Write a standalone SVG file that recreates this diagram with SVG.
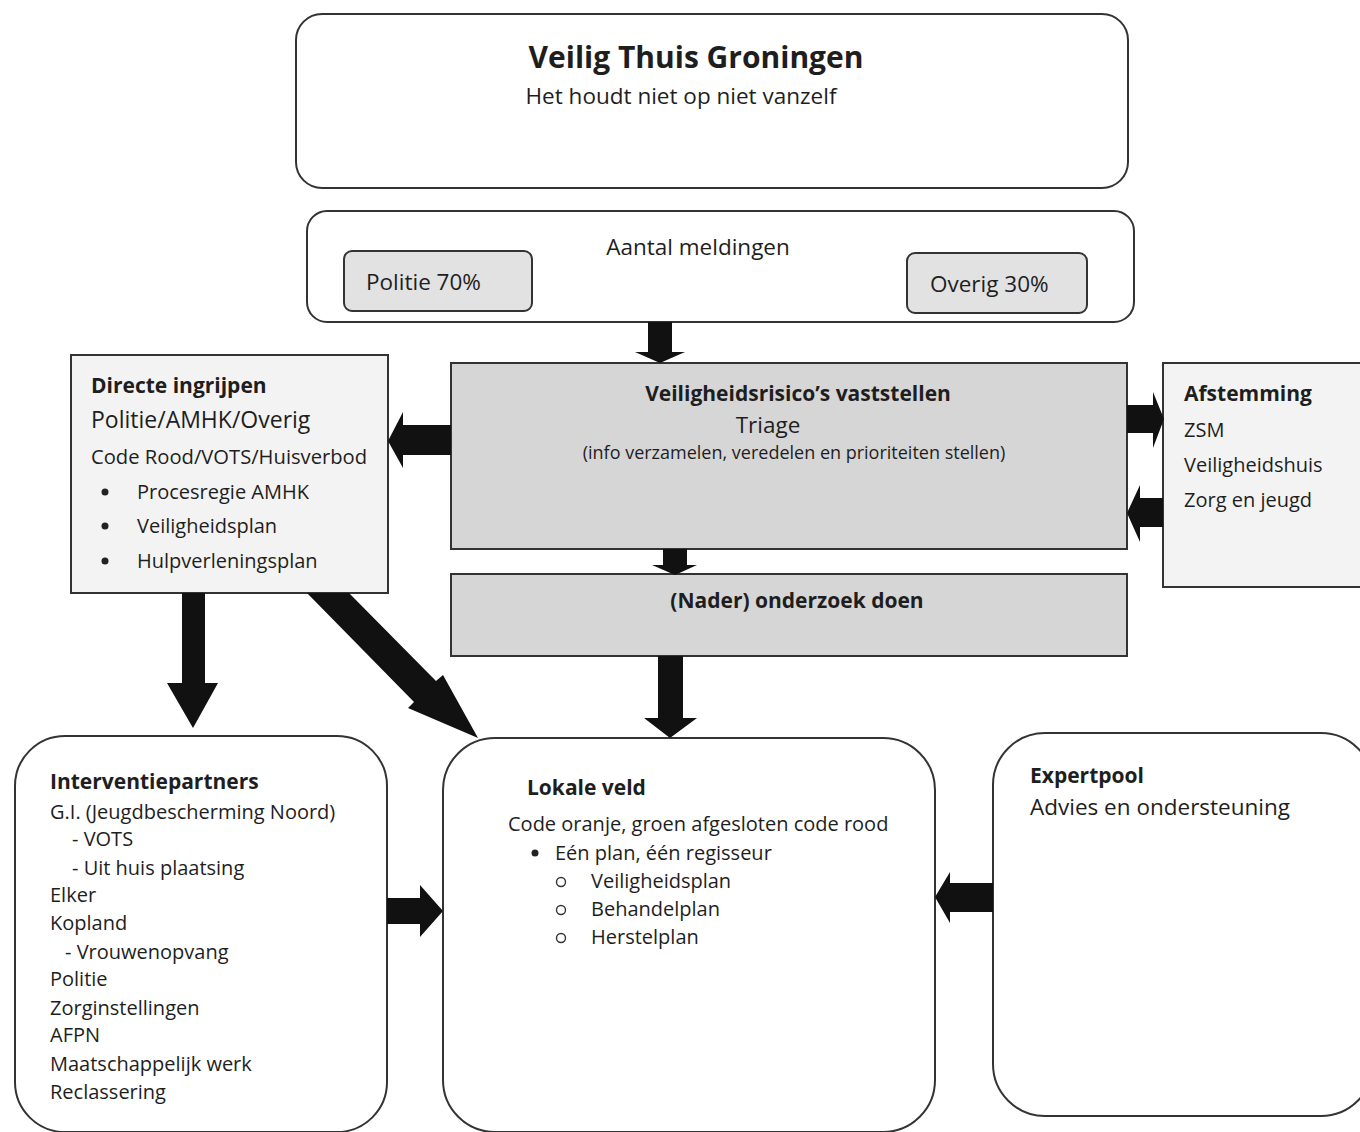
<svg xmlns="http://www.w3.org/2000/svg" width="1360" height="1132" viewBox="0 0 1360 1132">
<style>
text{font-family:"Open Sans",Lato,"Liberation Sans",sans-serif;fill:#1e1e1e;}
.b{font-weight:bold;}
.box{stroke:#333;stroke-width:2;}
.w{fill:#fff;}
.g{fill:#d6d6d6;}
.lg{fill:#f3f3f3;}
.pg{fill:#e2e2e2;}
.arr{fill:#111;}
.big{font-size:22.5px;}
.hd{font-size:21px;font-weight:bold;}
.t19{font-size:20px;}
</style>
<rect width="1360" height="1132" fill="#fff"/>

<g id="header">
<rect class="box w" x="296" y="14" width="832" height="174" rx="26"/>
<text class="b" x="696" y="68" font-size="30" text-anchor="middle">Veilig Thuis Groningen</text>
<text x="681" y="104" class="big" text-anchor="middle">Het houdt niet op niet vanzelf</text>
</g>

<g id="meldingen">
<rect class="box w" x="307" y="211" width="827" height="111" rx="20"/>
<text x="698" y="255" class="big" text-anchor="middle">Aantal meldingen</text>
</g>
<g id="politie">
<rect class="box pg" x="344" y="251" width="188" height="60" rx="8"/>
<text x="366" y="290" class="big">Politie 70%</text>
</g>
<g id="overig">
<rect class="box pg" x="907" y="253" width="180" height="60" rx="8"/>
<text x="930" y="292" class="big">Overig 30%</text>
</g>

<g id="triage">
<rect class="box g" x="451" y="363" width="676" height="186"/>
<text class="hd" x="798" y="401" text-anchor="middle">Veiligheidsrisico’s vaststellen</text>
<text x="768" y="433" class="big" text-anchor="middle">Triage</text>
<text x="794" y="459" font-size="18" text-anchor="middle">(info verzamelen, veredelen en prioriteiten stellen)</text>
</g>

<g id="onderzoek">
<rect class="box g" x="451" y="574" width="676" height="82"/>
<text class="hd" x="797" y="608" text-anchor="middle">(Nader) onderzoek doen</text>
</g>

<g id="directe">
<rect class="box lg" x="71" y="355" width="317" height="238"/>
<text class="hd" x="91" y="393">Directe ingrijpen</text>
<text x="91" y="428" font-size="23">Politie/AMHK/Overig</text>
<text x="91" y="464" font-size="20.2">Code Rood/VOTS/Huisverbod</text>
<circle cx="105" cy="492" r="3.5" fill="#222"/>
<text x="137" y="499" class="t19">Procesregie AMHK</text>
<circle cx="105" cy="526" r="3.5" fill="#222"/>
<text x="137" y="533" class="t19">Veiligheidsplan</text>
<circle cx="105" cy="561" r="3.5" fill="#222"/>
<text x="137" y="568" class="t19">Hulpverleningsplan</text>
</g>

<g id="afstemming">
<rect class="box lg" x="1163" y="363" width="210" height="224"/>
<text class="hd" x="1184" y="401">Afstemming</text>
<text x="1184" y="437" class="t19">ZSM</text>
<text x="1184" y="472" class="t19">Veiligheidshuis</text>
<text x="1184" y="507" class="t19">Zorg en jeugd</text>
</g>

<g id="interventie">
<rect class="box w" x="15" y="736" width="372" height="396" rx="50"/>
<text class="hd" x="50" y="789">Interventiepartners</text>
<text x="50" y="819" class="t19">G.I. (Jeugdbescherming Noord)</text>
<text x="72" y="846" class="t19">- VOTS</text>
<text x="72" y="875" class="t19">- Uit huis plaatsing</text>
<text x="50" y="902" class="t19">Elker</text>
<text x="50" y="930" class="t19">Kopland</text>
<text x="65" y="959" class="t19">- Vrouwenopvang</text>
<text x="50" y="986" class="t19">Politie</text>
<text x="50" y="1015" class="t19">Zorginstellingen</text>
<text x="50" y="1042" class="t19">AFPN</text>
<text x="50" y="1071" class="t19">Maatschappelijk werk</text>
<text x="50" y="1099" class="t19">Reclassering</text>
</g>

<g id="lokale">
<rect class="box w" x="443" y="738" width="492" height="394" rx="52"/>
<text class="hd" x="527" y="795">Lokale veld</text>
<text x="508" y="831" class="t19">Code oranje, groen afgesloten code rood</text>
<circle cx="535" cy="853" r="3.5" fill="#222"/>
<text x="555" y="860" class="t19">Eén plan, één regisseur</text>
<circle cx="561" cy="882" r="4.5" fill="none" stroke="#333" stroke-width="1.4"/>
<text x="591" y="888" class="t19">Veiligheidsplan</text>
<circle cx="561" cy="910" r="4.5" fill="none" stroke="#333" stroke-width="1.4"/>
<text x="591" y="916" class="t19">Behandelplan</text>
<circle cx="561" cy="938" r="4.5" fill="none" stroke="#333" stroke-width="1.4"/>
<text x="591" y="944" class="t19">Herstelplan</text>
</g>

<g id="expertpool">
<rect class="box w" x="993" y="733" width="380" height="383" rx="52"/>
<text class="hd" x="1030" y="783" font-size="21.5">Expertpool</text>
<text x="1030" y="815" class="big">Advies en ondersteuning</text>
</g>

<g id="connectors">
<polygon class="arr" points="648,322 672,322 672,352 685,352 660,363 635,352 648,352"/>
<polygon class="arr" points="663,549 687,549 687,565 697,565 675,575 652,565 663,565"/>
<polygon class="arr" points="658,656 683,656 683,718 697,718 670,738 644,718 658,718"/>
<polygon class="arr" points="451,425 451,455 403,455 403,468 388,441 403,412 403,425"/>
<polygon class="arr" points="1127,405 1153,405 1153,392 1164,419 1153,448 1153,433 1127,433"/>
<polygon class="arr" points="1163,498 1163,527 1140,527 1140,542 1127,513 1140,485 1140,498"/>
<polygon class="arr" points="182,593 205,593 205,683 218,683 193,728 167,683 182,683"/>
<polygon class="arr" points="307,593 349,593 436,681 443,675 478,738 408,708 414,702"/>
<polygon class="arr" points="387,898 420,898 420,885 443,911 420,937 420,924 387,924"/>
<polygon class="arr" points="993,883 993,912 950,912 950,923 935,897 950,872 950,883"/>
</g>
</svg>
